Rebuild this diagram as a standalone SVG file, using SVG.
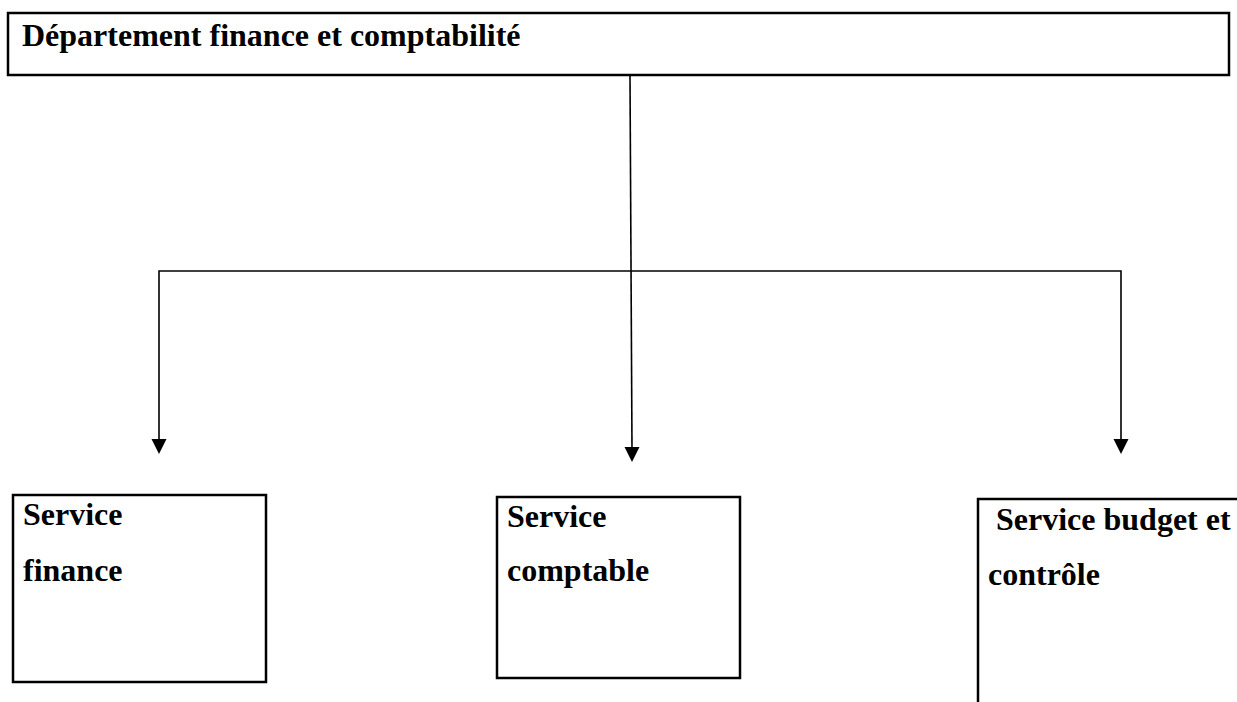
<svg xmlns="http://www.w3.org/2000/svg" width="1237" height="702" viewBox="0 0 1237 702">
<defs>
<style>
.box{fill:#fff;stroke:#000;stroke-width:2.5}
.t{font-family:"Liberation Serif","Times New Roman",serif;font-weight:bold;font-size:32px;fill:#000}
.ln{fill:none;stroke:#000;stroke-width:1.6}
.ah{fill:#000}
</style>
</defs>
<rect width="1237" height="702" fill="#fff"/>
<g id="connectors">
<path class="ln" d="M630,76 L632,450"/>
<path class="ln" d="M159,450 L159,271 L1121,271 L1121,440"/>
<polygon class="ah" points="151.5,439 166.5,439 159,454"/>
<polygon class="ah" points="624.5,447 639.5,447 632,462"/>
<polygon class="ah" points="1113.5,439 1128.5,439 1121,454"/>
</g>
<g id="dept">
<rect class="box" x="8" y="13" width="1221" height="62"/>
<text class="t" x="22" y="46">Département finance et comptabilité</text>
</g>
<g id="finance">
<rect class="box" x="13" y="495" width="253" height="187"/>
<text class="t" x="23" y="525">Service</text>
<text class="t" x="23" y="581">finance</text>
</g>
<g id="comptable">
<rect class="box" x="497" y="497" width="243" height="181"/>
<text class="t" x="507" y="527">Service</text>
<text class="t" x="507" y="581">comptable</text>
</g>
<g id="budget">
<rect class="box" x="978" y="499" width="280" height="220"/>
<text class="t" x="996" y="530">Service budget et</text>
<text class="t" x="988" y="585">contrôle</text>
</g>
</svg>
